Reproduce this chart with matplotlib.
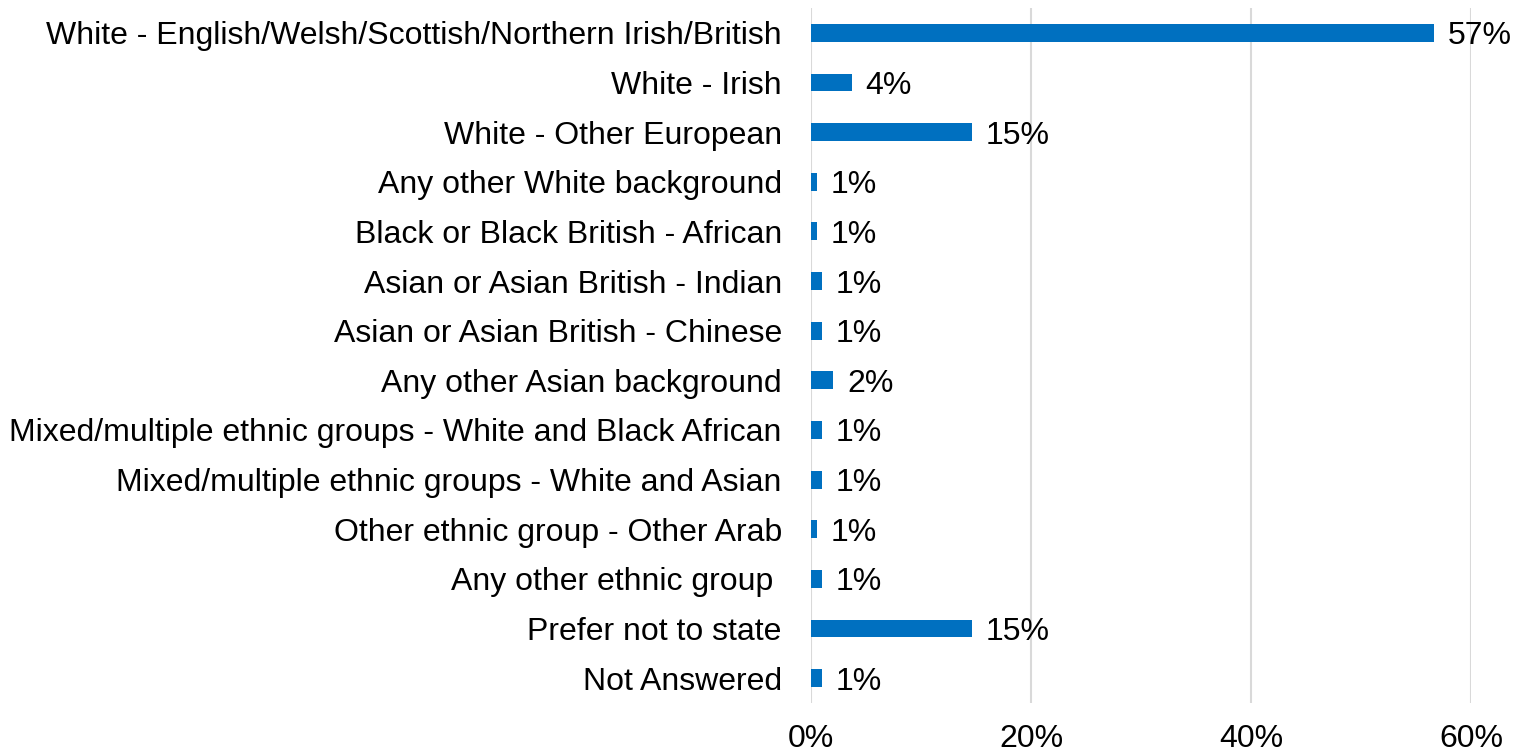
import math
import matplotlib
matplotlib.use("Agg")
import matplotlib.pyplot as plt
from matplotlib.ticker import FuncFormatter

categories = [
    "White - English/Welsh/Scottish/Northern Irish/British",
    "White - Irish",
    "White - Other European",
    "Any other White background",
    "Black or Black British - African",
    "Asian or Asian British - Indian",
    "Asian or Asian British - Chinese",
    "Any other Asian background",
    "Mixed/multiple ethnic groups - White and Black African",
    "Mixed/multiple ethnic groups - White and Asian",
    "Other ethnic group - Other Arab",
    "Any other ethnic group ",
    "Prefer not to state",
    "Not Answered",
]
shares = [56.6, 3.7, 14.6, 0.5, 0.5, 1.0, 1.0, 2.0, 1.0, 1.0, 0.5, 1.0, 14.6, 1.0]
x_ticks = [0, 20, 40, 60]

plt.rcParams["font.family"] = ["Liberation Sans", "DejaVu Sans"]
FS = 23

fig = plt.figure(figsize=(15.15, 7.54), dpi=100)
ax = fig.add_axes([811 / 1515, 1 - 703 / 754, 660 / 1515, 695 / 754])

y = list(range(len(categories)))
ax.barh(y, shares, height=0.36, color="#0070C0", zorder=3)

for yi, v in zip(y, shares):
    ax.annotate(f"{math.floor(v + 0.5)}%", xy=(v, yi), xytext=(10, 0),
                textcoords="offset points", va="center_baseline", ha="left",
                fontsize=FS, color="#000000")

ax.set_ylim(len(categories) - 0.5, -0.5)
ax.set_xlim(0, 60)
ax.set_yticks(y)
ax.set_yticklabels(categories, fontsize=FS, color="#000000")
for lbl in ax.get_yticklabels():
    lbl.set_verticalalignment("center_baseline")
ax.set_xticks(x_ticks)
ax.xaxis.set_major_formatter(FuncFormatter(lambda v, p: f"{v:.0f}%"))
ax.tick_params(axis="x", length=0, pad=15, labelsize=FS, labelcolor="#000000")
ax.tick_params(axis="y", length=0, pad=21)

ax.grid(axis="x", color="#d9d9d9", linewidth=1.5, zorder=0)
for s in ax.spines.values():
    s.set_visible(False)

fig.savefig("out.png", dpi=100)
